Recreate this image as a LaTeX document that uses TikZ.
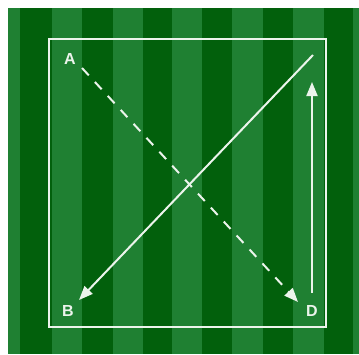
\documentclass[tikz,border=0pt]{standalone}
\usepackage{fontspec}
\setmainfont{Liberation Sans}
\usetikzlibrary{arrows.meta}
\definecolor{darkg}{RGB}{2,96,12}
\definecolor{lightg}{RGB}{31,128,50}
\definecolor{chalk}{RGB}{236,244,236}
\begin{document}
\begin{tikzpicture}[x=1pt,y=-1pt,
  lbl/.style={text=chalk,font=\fontsize{16}{16}\selectfont\bfseries,inner sep=0pt},
  chalkline/.style={draw=chalk,line width=2pt},
  tip/.style={-{Triangle[length=14pt,width=11pt]}}]
\useasboundingbox (0,0) rectangle (359,354);
\fill[white] (0,0) rectangle (359,354);
\fill[lightg] (8,8) rectangle (359,354);
\foreach \a/\b in {20/52,82/113,143/172,202/232,263/293,324/353}
  \fill[darkg] (\a,8) rectangle (\b,354);
\draw[chalkline] (49,39) rectangle (326,327);
\node[lbl] (A) at (70,59) {A};
\node[lbl] (B) at (68,311) {B};
\node[lbl] (D) at (312,311) {D};
\coordinate (a1) at (82,68);
\coordinate (d1) at (298,302);
\coordinate (s1) at (313,55);
\coordinate (b1) at (79,300);
\coordinate (v1) at (312,293);
\coordinate (v2) at (312,82);
\draw[chalkline,tip,dash pattern=on 10pt off 9pt] (a1) -- (d1);
\draw[chalkline,tip] (s1) -- (b1);
\draw[chalkline,tip] (v1) -- (v2);
\end{tikzpicture}
\end{document}
